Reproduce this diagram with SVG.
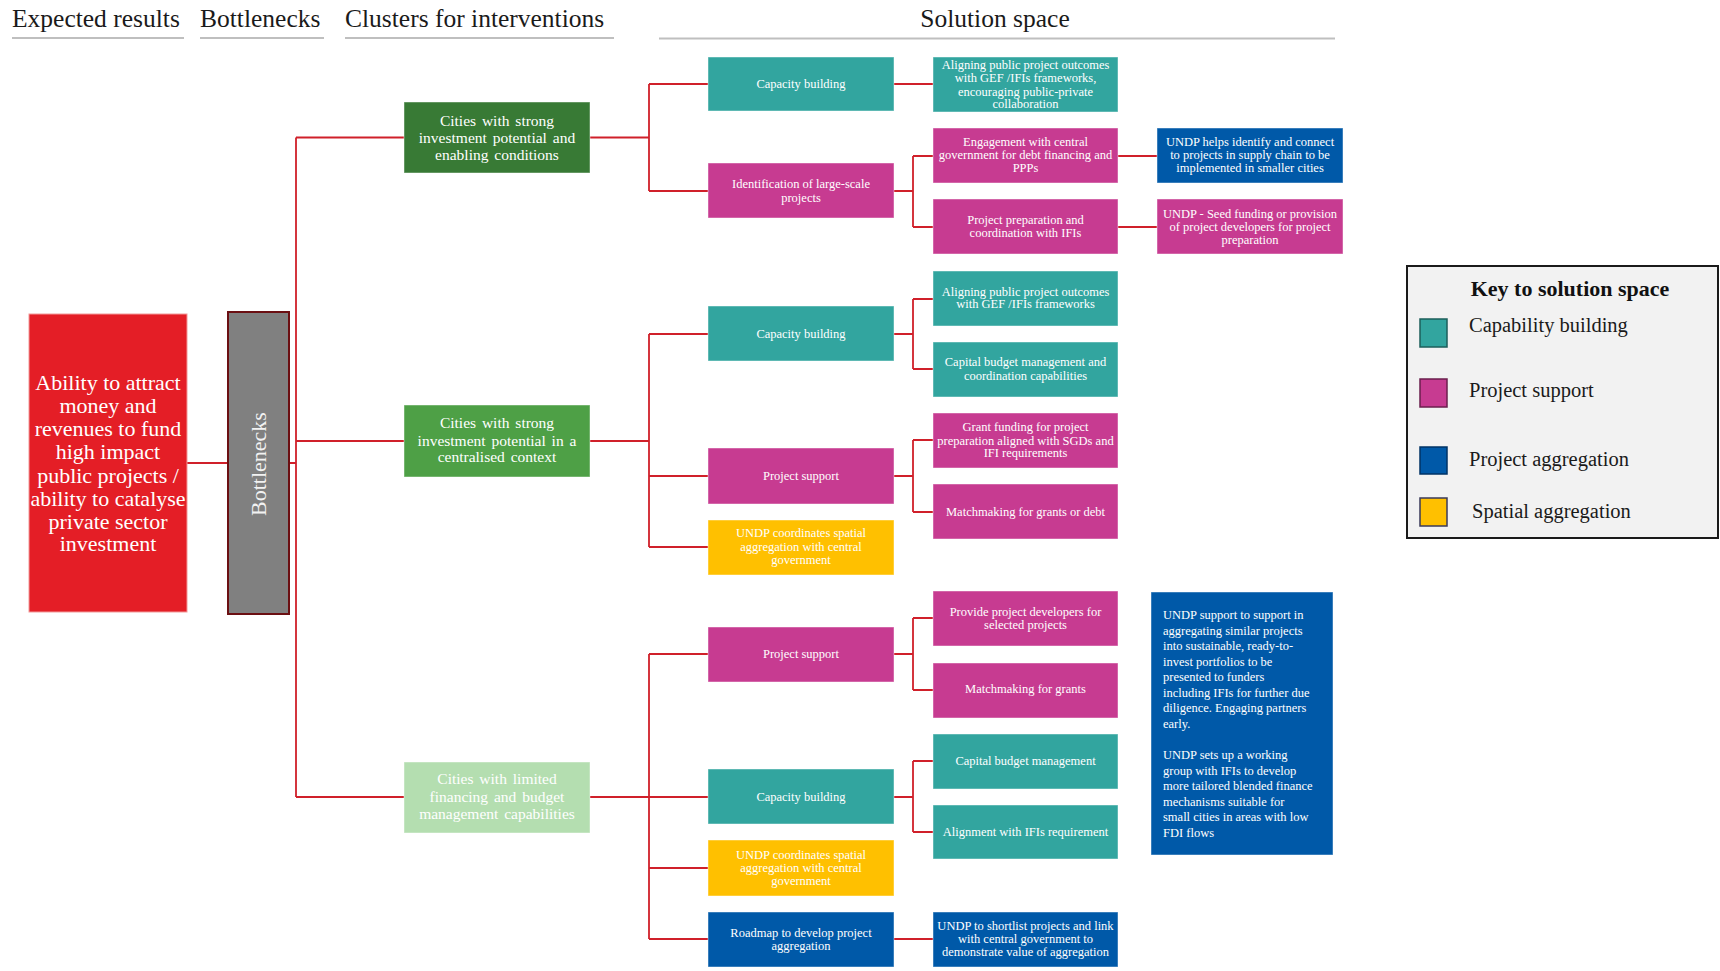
<svg xmlns="http://www.w3.org/2000/svg" width="1720" height="971" viewBox="0 0 1720 971">
<style>
text{font-family:"Liberation Serif","Times New Roman",serif;}
.hdr{font-size:25.5px;fill:#1a1a1a;}
.ul{stroke:#bfbfbf;stroke-width:2;}
.n text{fill:#ffffff;font-size:12.5px;text-anchor:middle;}
.cl text{fill:#ffffff;font-size:15.5px;text-anchor:middle;word-spacing:2px;}
.teal{fill:#32a59f;}
.pink{fill:#c73b91;}
.blue{fill:#0059a8;}
.yel{fill:#ffc000;}
.box{stroke:#ffffff;stroke-opacity:0.45;stroke-width:1;}
#connectors path{fill:none;stroke:#d0202a;stroke-width:1.8;}
.lg{font-size:20.5px;fill:#1a1a1a;}
</style>
<rect width="1720" height="971" fill="#ffffff"/>
<g id="headers">
<text class="hdr" x="12" y="27">Expected results</text>
<line class="ul" x1="12" y1="38" x2="184" y2="38"/>
<text class="hdr" x="200" y="27">Bottlenecks</text>
<line class="ul" x1="200" y1="38" x2="324" y2="38"/>
<text class="hdr" x="345" y="27">Clusters for interventions</text>
<line class="ul" x1="345" y1="38" x2="614" y2="38"/>
<text class="hdr" x="995" y="27" text-anchor="middle">Solution space</text>
<line class="ul" x1="659" y1="38.5" x2="1335" y2="38.5"/>
</g>
<g id="connectors">
<path d="M187 463H228M289 463H296M296 137.5V797M296 137.5H404M296 441H404M296 797H404"/>
<path d="M590 137.5H649M649 84V191M649 84H708M649 191H708M894 84H933M894 191H913M913 156V227M913 156H933M913 227H933M1118 156H1157M1118 227H1157"/>
<path d="M590 441H649M649 334V547M649 334H708M649 476H708M649 547H708M894 334H913M913 299V369M913 299H933M913 369H933M894 476H913M913 440V512M913 440H933M913 512H933"/>
<path d="M590 797H649M649 654V939M649 654H708M649 797H708M649 868H708M649 939H708M894 654H913M913 618V690M913 618H933M913 690H933M894 797H913M913 761V832M913 761H933M913 832H933M894 939H933"/>
</g>
<g id="expected">
<rect x="29" y="314" width="158" height="298" fill="#e41e26" stroke="#f29a9a" stroke-width="1"/>
<g fill="#ffffff" font-size="22" text-anchor="middle">
<text x="108" y="390">Ability to attract</text>
<text x="108" y="413">money and</text>
<text x="108" y="436">revenues to fund</text>
<text x="108" y="459">high impact</text>
<text x="108" y="483">public projects /</text>
<text x="108" y="506">ability to catalyse</text>
<text x="108" y="529">private sector</text>
<text x="108" y="551">investment</text>
</g>
</g>
<g id="bottlenecks">
<rect x="228" y="312" width="61" height="302" fill="#808080" stroke="#6b0f12" stroke-width="2"/>
<text x="0" y="0" transform="translate(266 464) rotate(-90)" fill="#f2f2f2" font-size="22" text-anchor="middle">Bottlenecks</text>
</g>
<g id="cluster1" class="cl">
<rect class="box" x="404" y="102" width="186" height="71" fill="#387a35"/>
<text x="497" y="126">Cities with strong</text>
<text x="497" y="143">investment potential and</text>
<text x="497" y="160">enabling conditions</text>
</g>
<g id="cluster2" class="cl">
<rect class="box" x="404" y="405" width="186" height="72" fill="#4ea046"/>
<text x="497" y="428">Cities with strong</text>
<text x="497" y="446">investment potential in a</text>
<text x="497" y="462">centralised context</text>
</g>
<g id="cluster3" class="cl">
<rect class="box" x="404" y="762" width="186" height="71" fill="#b4deb0"/>
<text x="497" y="784">Cities with limited</text>
<text x="497" y="802">financing and budget</text>
<text x="497" y="819">management capabilities</text>
</g>
<g id="cb1" class="n">
<rect class="box teal" x="708" y="57" width="186" height="54"/>
<text x="801" y="88">Capacity building</text>
</g>
<g id="align1" class="n">
<rect class="box teal" x="933" y="57" width="185" height="55"/>
<text x="1025.5" y="69">Aligning public project outcomes</text>
<text x="1025.5" y="82">with GEF /IFIs frameworks,</text>
<text x="1025.5" y="96">encouraging public-private</text>
<text x="1025.5" y="108">collaboration</text>
</g>
<g id="ident" class="n">
<rect class="box pink" x="708" y="163" width="186" height="55"/>
<text x="801" y="188">Identification of large-scale</text>
<text x="801" y="202">projects</text>
</g>
<g id="engage" class="n">
<rect class="box pink" x="933" y="128" width="185" height="55"/>
<text x="1025.5" y="146">Engagement with central</text>
<text x="1025.5" y="159">government for debt financing and</text>
<text x="1025.5" y="172">PPPs</text>
</g>
<g id="prep" class="n">
<rect class="box pink" x="933" y="199" width="185" height="55"/>
<text x="1025.5" y="224">Project preparation and</text>
<text x="1025.5" y="237">coordination with IFIs</text>
</g>
<g id="undphelps" class="n">
<rect class="box blue" x="1157" y="128" width="186" height="55"/>
<text x="1250" y="146">UNDP helps identify and connect</text>
<text x="1250" y="159">to projects in supply chain to be</text>
<text x="1250" y="172">implemented in smaller cities</text>
</g>
<g id="undpseed" class="n">
<rect class="box pink" x="1157" y="199" width="186" height="55"/>
<text x="1250" y="218">UNDP - Seed funding or provision</text>
<text x="1250" y="231">of project developers for project</text>
<text x="1250" y="244">preparation</text>
</g>
<g id="cb2" class="n">
<rect class="box teal" x="708" y="306" width="186" height="55"/>
<text x="801" y="338">Capacity building</text>
</g>
<g id="align2" class="n">
<rect class="box teal" x="933" y="271" width="185" height="55"/>
<text x="1025.5" y="296">Aligning public project outcomes</text>
<text x="1025.5" y="308">with GEF /IFIs frameworks</text>
</g>
<g id="capbud2" class="n">
<rect class="box teal" x="933" y="342" width="185" height="55"/>
<text x="1025.5" y="366">Capital budget management and</text>
<text x="1025.5" y="380">coordination capabilities</text>
</g>
<g id="ps2" class="n">
<rect class="box pink" x="708" y="448" width="186" height="56"/>
<text x="801" y="480">Project support</text>
</g>
<g id="grant2" class="n">
<rect class="box pink" x="933" y="413" width="185" height="55"/>
<text x="1025.5" y="431">Grant funding for project</text>
<text x="1025.5" y="445">preparation aligned with SGDs and</text>
<text x="1025.5" y="457">IFI requirements</text>
</g>
<g id="match2" class="n">
<rect class="box pink" x="933" y="484" width="185" height="55"/>
<text x="1025.5" y="516">Matchmaking for grants or debt</text>
</g>
<g id="spatial2" class="n">
<rect class="box yel" x="708" y="520" width="186" height="55"/>
<text x="801" y="537">UNDP coordinates spatial</text>
<text x="801" y="551">aggregation with central</text>
<text x="801" y="564">government</text>
</g>
<g id="ps3" class="n">
<rect class="box pink" x="708" y="627" width="186" height="55"/>
<text x="801" y="658">Project support</text>
</g>
<g id="provide3" class="n">
<rect class="box pink" x="933" y="591" width="185" height="55"/>
<text x="1025.5" y="616">Provide project developers for</text>
<text x="1025.5" y="629">selected projects</text>
</g>
<g id="match3" class="n">
<rect class="box pink" x="933" y="663" width="185" height="55"/>
<text x="1025.5" y="693">Matchmaking for grants</text>
</g>
<g id="cb3" class="n">
<rect class="box teal" x="708" y="769" width="186" height="55"/>
<text x="801" y="801">Capacity building</text>
</g>
<g id="capbud3" class="n">
<rect class="box teal" x="933" y="734" width="185" height="55"/>
<text x="1025.5" y="765">Capital budget management</text>
</g>
<g id="alignment3" class="n">
<rect class="box teal" x="933" y="805" width="185" height="54"/>
<text x="1025.5" y="836">Alignment with IFIs requirement</text>
</g>
<g id="spatial3" class="n">
<rect class="box yel" x="708" y="840" width="186" height="56"/>
<text x="801" y="859">UNDP coordinates spatial</text>
<text x="801" y="872">aggregation with central</text>
<text x="801" y="885">government</text>
</g>
<g id="roadmap3" class="n">
<rect class="box blue" x="708" y="912" width="186" height="55"/>
<text x="801" y="937">Roadmap to develop project</text>
<text x="801" y="950">aggregation</text>
</g>
<g id="shortlist3" class="n">
<rect class="box blue" x="933" y="912" width="185" height="55"/>
<text x="1025.5" y="930">UNDP to shortlist projects and link</text>
<text x="1025.5" y="943">with central government to</text>
<text x="1025.5" y="956">demonstrate value of aggregation</text>
</g>
<g id="undpsupport">
<rect class="box blue" x="1151" y="592" width="182" height="263"/>
<g fill="#ffffff" font-size="12.5">
<text x="1163" y="619">UNDP support to support in</text>
<text x="1163" y="635">aggregating similar projects</text>
<text x="1163" y="650">into sustainable, ready-to-</text>
<text x="1163" y="666">invest portfolios to be</text>
<text x="1163" y="681">presented to funders</text>
<text x="1163" y="697">including IFIs for further due</text>
<text x="1163" y="712">diligence. Engaging partners</text>
<text x="1163" y="728">early.</text>
<text x="1163" y="759">UNDP sets up a working</text>
<text x="1163" y="775">group with IFIs to develop</text>
<text x="1163" y="790">more tailored blended finance</text>
<text x="1163" y="806">mechanisms suitable for</text>
<text x="1163" y="821">small cities in areas with low</text>
<text x="1163" y="837">FDI flows</text>
</g>
</g>
<g id="legend">
<rect x="1407" y="266" width="311" height="272" fill="#f2f2f2" stroke="#1a1a1a" stroke-width="2"/>
<text x="1570" y="296" font-size="22" font-weight="bold" fill="#111111" text-anchor="middle">Key to solution space</text>
<rect x="1420" y="319" width="27" height="28" fill="#32a59f" stroke="#1d5f5b" stroke-width="1.5"/>
<text class="lg" x="1469" y="332">Capability building</text>
<rect x="1420" y="379" width="27" height="28" fill="#c73b91" stroke="#6b1f4e" stroke-width="1.5"/>
<text class="lg" x="1469" y="397">Project support</text>
<rect x="1420" y="447" width="27" height="27" fill="#0059a8" stroke="#003366" stroke-width="1.5"/>
<text class="lg" x="1469" y="466">Project aggregation</text>
<rect x="1420" y="498" width="27" height="28" fill="#ffc000" stroke="#3a3a5a" stroke-width="1.5"/>
<text class="lg" x="1472" y="518">Spatial aggregation</text>
</g>
</svg>
